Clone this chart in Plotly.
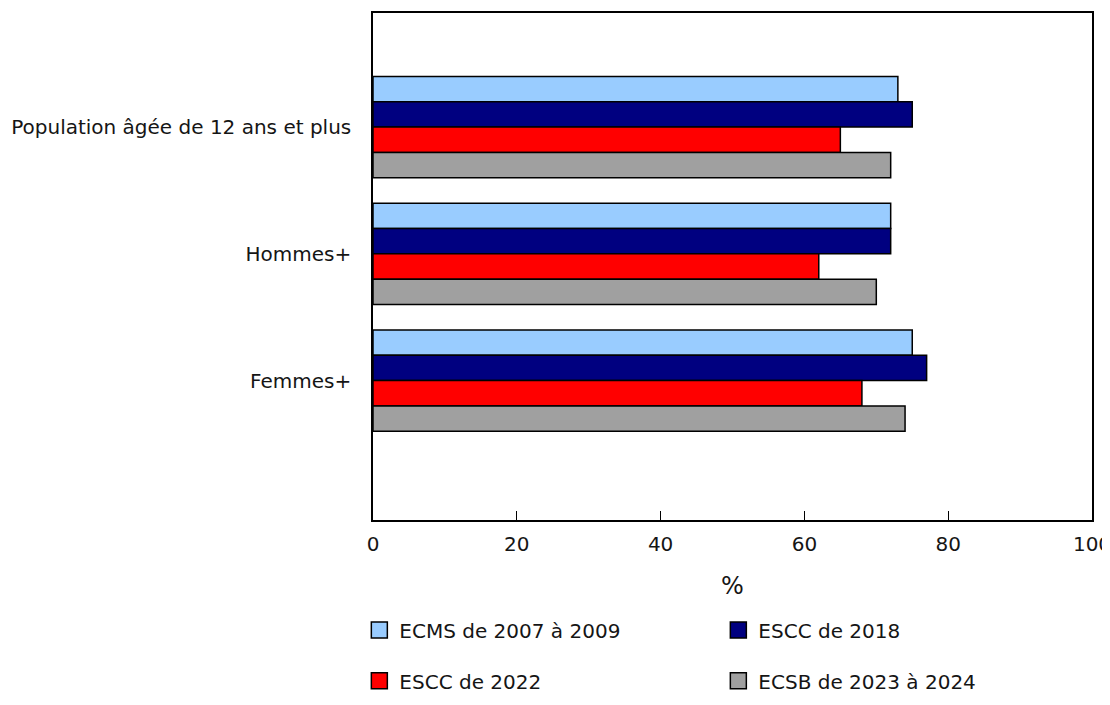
import plotly.graph_objects as go

categories = ["Population âgée de 12 ans et plus", "Hommes+", "Femmes+"]
series_names = ["ECMS de 2007 à 2009", "ESCC de 2018", "ESCC de 2022", "ECSB de 2023 à 2024"]
ecms_2007_2009 = [73, 72, 75]
escc_2018 = [75, 72, 77]
escc_2022 = [65, 62, 68]
ecsb_2023_2024 = [72, 70, 74]
colors = ["#99CCFF", "#000080", "#FF0000", "#A0A0A0"]
x_ticks = [0, 20, 40, 60, 80, 100]

FONT = "DejaVu Sans"
FS = 20
fig = go.Figure()
all_values = [ecms_2007_2009, escc_2018, escc_2022, ecsb_2023_2024]
legends = ["legend", "legend", "legend2", "legend2"]
for name, vals, col, lg in zip(series_names, all_values, colors, legends):
    fig.add_trace(go.Bar(
        y=categories, x=vals, name=name, orientation="h",
        marker=dict(color=col, line=dict(color="#000000", width=1.5)),
        legendgroup=name, showlegend=False,
    ))
for name, col, lg in zip(series_names, colors, legends):
    # legend-only swatch (larger square with black outline, as in the reference)
    fig.add_trace(go.Scatter(
        x=[None], y=[None], mode="markers", name=name, legendgroup=name,
        marker=dict(symbol="square", size=16, color=col,
                    line=dict(color="#000000", width=1.5)),
        legend=lg, hoverinfo="skip",
    ))

fig.update_layout(
    width=1102, height=697,
    margin=dict(l=365, r=18, t=5, b=172),
    barmode="group", bargap=0.2, bargroupgap=0,
    plot_bgcolor="white", paper_bgcolor="white",
    font=dict(family=FONT, size=FS, color="#151515"),
    xaxis=dict(range=[0, 100], tickvals=x_ticks, ticks="inside", ticklen=9,
               tickcolor="#000", showline=True, linecolor="#000", linewidth=1.5,
               mirror=True, showgrid=False, zeroline=False, ticklabelstandoff=5,
               automargin=False, ticklabeloverflow="allow",
               title=dict(text="%", standoff=22), tickfont=dict(size=FS)),
    yaxis=dict(autorange=False, range=[3.1, -0.9], showline=True, linecolor="#000",
               linewidth=1.5, mirror=True, showgrid=False, ticks="",
               automargin=False,
               ticklabelstandoff=16, tickfont=dict(size=FS)),
    legend=dict(orientation="h", x=-0.019, xanchor="left", y=-0.217, yanchor="middle",
                entrywidth=314, entrywidthmode="pixels", traceorder="normal",
                itemsizing="trace", font=dict(size=FS)),
    legend2=dict(orientation="h", x=-0.019, xanchor="left", y=-0.317, yanchor="middle",
                 entrywidth=314, entrywidthmode="pixels", traceorder="normal",
                 itemsizing="trace", font=dict(size=FS)),
)
fig.write_html("out.html")
